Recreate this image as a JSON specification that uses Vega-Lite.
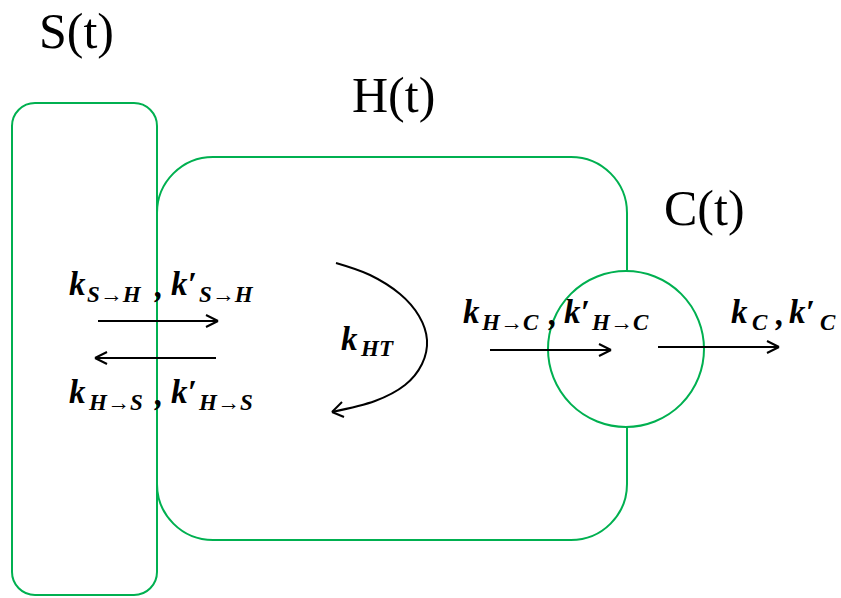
{
  "$schema": "https://vega.github.io/schema/vega-lite/v6.json",
  "width": 841,
  "height": 598,
  "padding": 0,
  "autosize": {"type": "fit", "contains": "padding"},
  "background": "white",
  "config": {"view": {"stroke": null}},
  "datasets": {
    "boxes": [
      {"name": "S", "x": 12, "x2": 157, "y": 103, "y2": 595},
      {"name": "H", "x": 157, "x2": 627, "y": 157, "y2": 540}
    ],
    "circle": [{"name": "C", "x": 626, "y": 349}],
    "segments": [
      {"x": 98, "y": 321, "x2": 218, "y2": 321},
      {"x": 218, "y": 321, "x2": 206, "y2": 315},
      {"x": 218, "y": 321, "x2": 206, "y2": 327},
      {"x": 216, "y": 358, "x2": 95, "y2": 358},
      {"x": 95, "y": 358, "x2": 107, "y2": 352},
      {"x": 95, "y": 358, "x2": 107, "y2": 364},
      {"x": 490, "y": 350, "x2": 611, "y2": 350},
      {"x": 611, "y": 350, "x2": 599, "y2": 344},
      {"x": 611, "y": 350, "x2": 599, "y2": 356},
      {"x": 658, "y": 347, "x2": 779, "y2": 347},
      {"x": 779, "y": 347, "x2": 767, "y2": 341},
      {"x": 779, "y": 347, "x2": 767, "y2": 353},
      {"x": 332, "y": 412, "x2": 342, "y2": 402},
      {"x": 332, "y": 412, "x2": 344, "y2": 417}
    ],
    "curve": [
      {"i": 0, "x": 336, "y": 263},
      {"i": 1, "x": 370, "y": 275},
      {"i": 2, "x": 400, "y": 294},
      {"i": 3, "x": 419, "y": 316},
      {"i": 4, "x": 427, "y": 340},
      {"i": 5, "x": 422, "y": 364},
      {"i": 6, "x": 405, "y": 385},
      {"i": 7, "x": 375, "y": 401},
      {"i": 8, "x": 332, "y": 412}
    ],
    "titles": [
      {"t": "S(t)", "x": 39, "y": 48},
      {"t": "H(t)", "x": 352, "y": 112},
      {"t": "C(t)", "x": 664, "y": 225}
    ],
    "labels": [
      {"t": "k", "x": 69, "y": 295, "role": "main"},
      {"t": "S→H", "x": 87, "y": 302, "role": "sub"},
      {"t": ",", "x": 155, "y": 297, "role": "main"},
      {"t": "k′", "x": 171, "y": 295, "role": "main"},
      {"t": "S→H", "x": 199, "y": 302, "role": "sub"},
      {"t": "k", "x": 69, "y": 403, "role": "main"},
      {"t": "H→S", "x": 89, "y": 410, "role": "sub"},
      {"t": ",", "x": 155, "y": 405, "role": "main"},
      {"t": "k′", "x": 171, "y": 403, "role": "main"},
      {"t": "H→S", "x": 199, "y": 410, "role": "sub"},
      {"t": "k", "x": 341, "y": 350, "role": "main"},
      {"t": "HT", "x": 361, "y": 356, "role": "sub"},
      {"t": "k", "x": 463, "y": 323, "role": "main"},
      {"t": "H→C", "x": 482, "y": 330, "role": "sub"},
      {"t": ",", "x": 549, "y": 325, "role": "main"},
      {"t": "k′", "x": 564, "y": 323, "role": "main"},
      {"t": "H→C", "x": 592, "y": 330, "role": "sub"},
      {"t": "k", "x": 731, "y": 323, "role": "main"},
      {"t": "C", "x": 752, "y": 330, "role": "sub"},
      {"t": ",", "x": 776, "y": 325, "role": "main"},
      {"t": "k′", "x": 789, "y": 323, "role": "main"},
      {"t": "C", "x": 820, "y": 330, "role": "sub"}
    ]
  },
  "encoding": {
    "x": {"field": "x", "type": "quantitative", "axis": null, "scale": {"domain": [0, 841], "nice": false, "zero": false}},
    "y": {"field": "y", "type": "quantitative", "axis": null, "scale": {"domain": [0, 598], "nice": false, "zero": false, "reverse": true}}
  },
  "layer": [
    {
      "data": {"name": "boxes"},
      "transform": [{"filter": "datum.name === 'S'"}],
      "mark": {"type": "rect", "fill": null, "fillOpacity": 0, "stroke": "#00B050", "strokeWidth": 2, "cornerRadius": 23},
      "encoding": {"x2": {"field": "x2"}, "y2": {"field": "y2"}}
    },
    {
      "data": {"name": "boxes"},
      "transform": [{"filter": "datum.name === 'H'"}],
      "mark": {"type": "rect", "fill": null, "fillOpacity": 0, "stroke": "#00B050", "strokeWidth": 2, "cornerRadius": 56},
      "encoding": {"x2": {"field": "x2"}, "y2": {"field": "y2"}}
    },
    {
      "data": {"name": "circle"},
      "mark": {"type": "point", "shape": "circle", "size": 24336, "filled": false, "fill": "white", "fillOpacity": 1, "stroke": "#00B050", "strokeWidth": 2, "opacity": 1}
    },
    {
      "data": {"name": "segments"},
      "mark": {"type": "rule", "color": "black", "strokeWidth": 2},
      "encoding": {"x2": {"field": "x2"}, "y2": {"field": "y2"}}
    },
    {
      "data": {"name": "curve"},
      "mark": {"type": "line", "color": "black", "strokeWidth": 2, "interpolate": "cardinal"},
      "encoding": {"order": {"field": "i", "type": "quantitative"}}
    },
    {
      "data": {"name": "titles"},
      "mark": {"type": "text", "font": "Times New Roman, Liberation Serif, serif", "fontSize": 50, "align": "left", "baseline": "alphabetic", "color": "black"},
      "encoding": {"text": {"field": "t"}}
    },
    {
      "data": {"name": "labels"},
      "transform": [{"filter": "datum.role === 'main'"}],
      "mark": {"type": "text", "font": "Times New Roman, Liberation Serif, serif", "fontSize": 33, "fontWeight": "bold", "fontStyle": "italic", "align": "left", "baseline": "alphabetic", "color": "black"},
      "encoding": {"text": {"field": "t"}}
    },
    {
      "data": {"name": "labels"},
      "transform": [{"filter": "datum.role === 'sub'"}],
      "mark": {"type": "text", "font": "Times New Roman, Liberation Serif, serif", "fontSize": 23, "fontWeight": "bold", "fontStyle": "italic", "align": "left", "baseline": "alphabetic", "color": "black"},
      "encoding": {"text": {"field": "t"}}
    }
  ]
}
